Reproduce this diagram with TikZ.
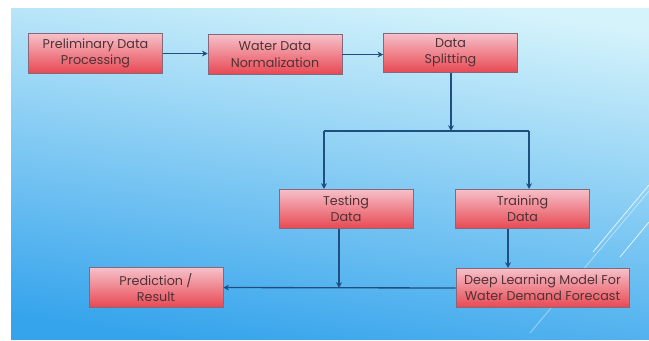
\documentclass[tikz,border=0pt]{standalone}
\usepackage{fontspec}
\setmainfont{Poppins}
\usetikzlibrary{arrows.meta}

\definecolor{slidetop}{HTML}{D4F3FB}
\definecolor{slidebot}{HTML}{36A4EC}
\definecolor{boxtop}{HTML}{F6C0C9}
\definecolor{boxbot}{HTML}{E84852}
\definecolor{boxline}{HTML}{86687A}
\definecolor{boxtext}{HTML}{4E3236}
\definecolor{flowline}{HTML}{1E4F80}

\tikzset{
  stage/.style={draw=boxline, line width=0.6pt, top color=boxtop, bottom color=boxbot,
    minimum width=53.6mm, minimum height=15.8mm, align=center, text=boxtext,
    font=\fontsize{14.5}{18.5}\selectfont, inner sep=1pt},
  flow/.style={draw=flowline, line width=1.5pt, >={Stealth[length=6.5pt,width=6.5pt]}},
  deco/.style={white, line width=0.9pt},
}

\begin{document}
\begin{tikzpicture}[x=0.4mm,y=-0.4mm]
  \useasboundingbox (0,0) rectangle (649,340);
  % slide background
  \shade[top color=slidetop, bottom color=slidebot, shading angle=-8] (11,8) rectangle (649,339);
  \draw[deco, opacity=0.8] (593,252) -- (649,185);
  \draw[deco, opacity=0.45] (530,333) -- (649,191);
  \draw[deco, opacity=0.8] (620,257) -- (649,222);

  % stages
  \node[stage] (prelim) at (95.5,53.5) {Preliminary Data\\Processing};
  \node[stage] (norm) at (275,54.5) {Water Data\\Normalization};
  \node[stage] (split) at (450.5,53) {Data\\Splitting};
  \node[stage] (testing) at (346,209) {Testing\\Data};
  \node[stage] (training) at (522.5,209) {Training\\Data};
  \node[stage, minimum width=69.2mm] (model) at (542.5,288) {Deep Learning Model For\\Water Demand Forecast};
  \node[stage] (result) at (156,287.5) {Prediction /\\Result};

  % junctions
  \coordinate (fork) at (451,131);
  \coordinate (forkl) at (324,131);
  \coordinate (forkr) at (529,131);
  \coordinate (merge) at (339,288);
  \coordinate (down) at (508,0);

  % flow
  \draw[flow,->] (prelim.east) -- (prelim.east -| norm.west);
  \draw[flow,->] (norm.east) -- (norm.east -| split.west);
  \draw[flow,->] (fork |- split.south) -- (fork);
  \draw[flow] (forkl) -- (forkr);
  \draw[flow,->] (forkl) -- (forkl |- testing.north);
  \draw[flow,->] (forkr) -- (forkr |- training.north);
  \draw[flow,->] (down |- training.south) -- (down |- model.north);
  \draw[flow,->] (merge |- testing.south) -- (merge);
  \draw[flow,->] (model.west) -- (result.east);
\end{tikzpicture}
\end{document}
